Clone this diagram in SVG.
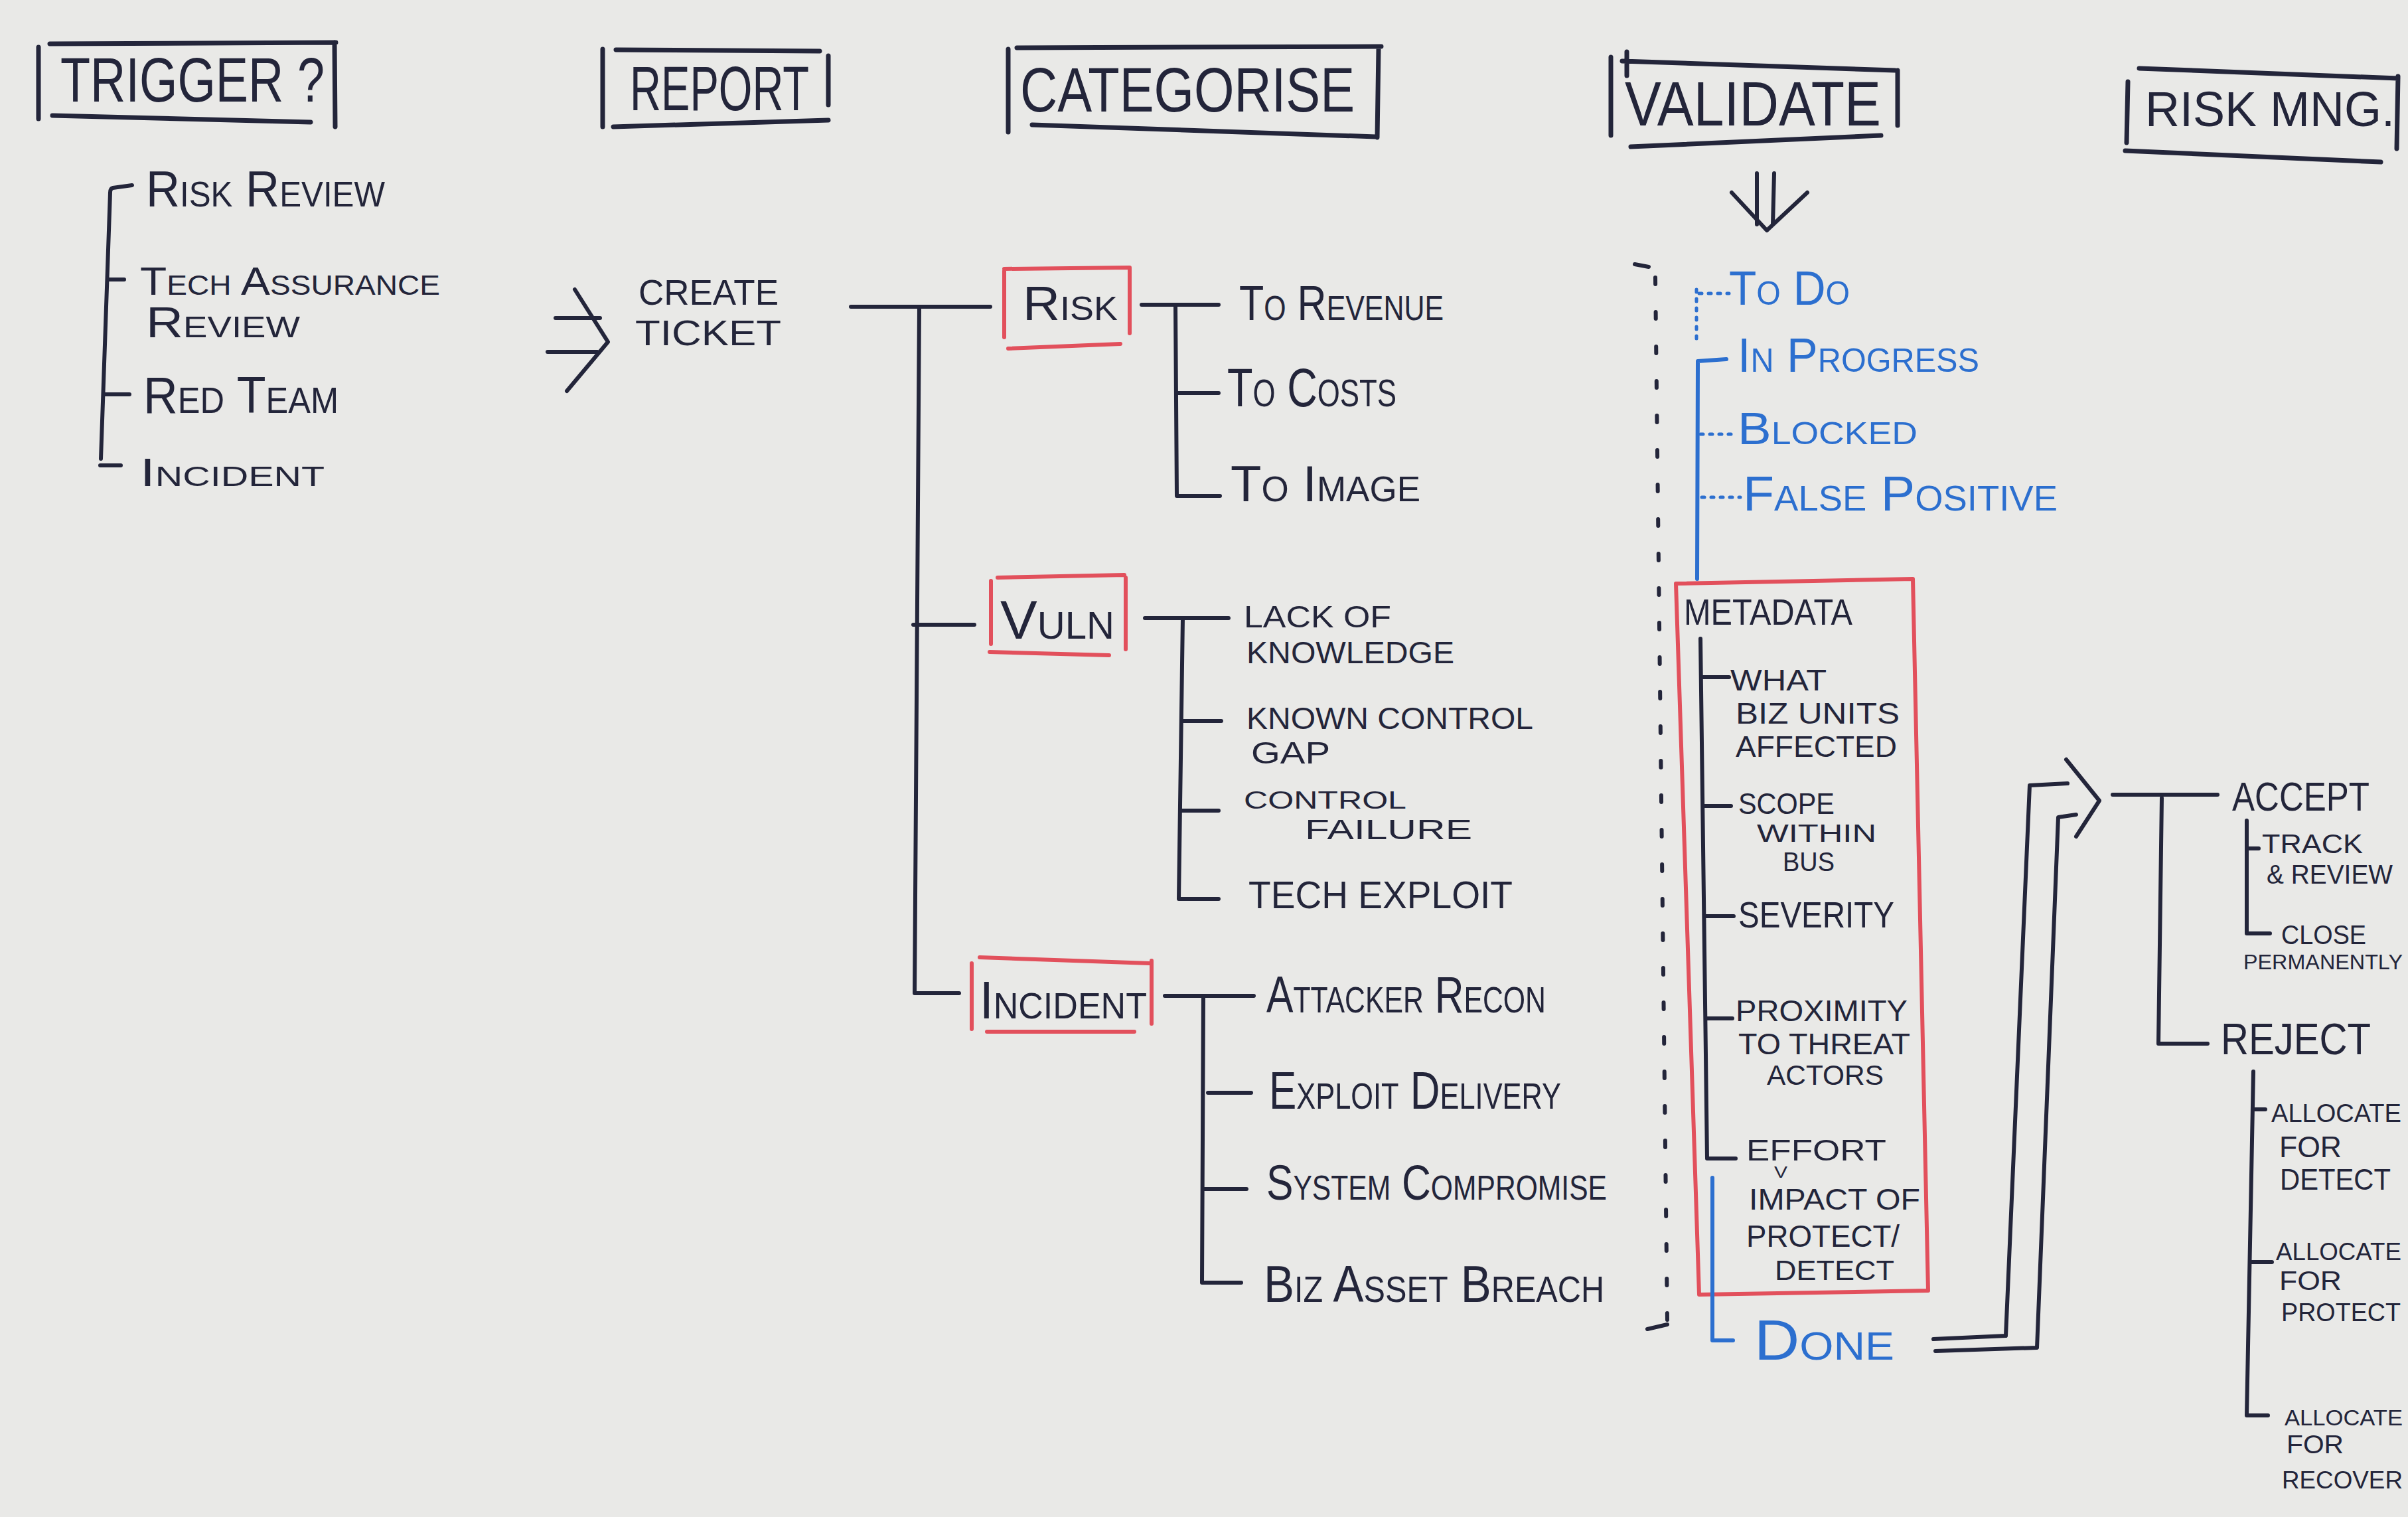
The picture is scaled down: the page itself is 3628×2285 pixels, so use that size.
<svg xmlns="http://www.w3.org/2000/svg" width="3628" height="2285" viewBox="0 0 3628 2285">
<style>
.bg{fill:#e9e9e7}
.ln{fill:none;stroke:#23253a;stroke-width:6;stroke-linecap:round;stroke-linejoin:round}
.bx{fill:none;stroke:#23253a;stroke-width:7;stroke-linecap:round;stroke-linejoin:round}
.rd{fill:none;stroke:#e2505c;stroke-width:6;stroke-linecap:round;stroke-linejoin:round}
.bl{fill:none;stroke:#2c6fcf;stroke-width:6;stroke-linecap:round;stroke-linejoin:round}
.bld{fill:none;stroke:#2c6fcf;stroke-width:5;stroke-linecap:round;stroke-dasharray:4 10}
.dot{fill:none;stroke:#23253a;stroke-width:6;stroke-linecap:round;stroke-dasharray:10 42}
text{font-family:"Liberation Sans",Arial,sans-serif;fill:#23253a}
.sc{font-variant:small-caps}
.bt{fill:#2c6fcf}
.h{font-size:94px}
</style>
<rect class="bg" x="0" y="0" width="3628" height="2285"/>

<g id="trigger">
<path class="bx" d="M58,71 L58,179 M75,66 L506,64 M504,64 L505,191 M79,174 L468,184"/>
<text class="h" x="91" y="153" textLength="398" lengthAdjust="spacingAndGlyphs">TRIGGER ?</text>
</g>
<g id="trig-risk-review"><text class="sc" font-size="76" x="220" y="311" textLength="360" lengthAdjust="spacingAndGlyphs">Risk Review</text></g>
<g id="trig-tech-assurance"><text class="sc" font-size="60"><tspan x="211" y="444" textLength="452" lengthAdjust="spacingAndGlyphs">Tech Assurance</tspan><tspan x="220" y="508" font-size="64" textLength="232" lengthAdjust="spacingAndGlyphs">Review</tspan></text></g>
<g id="trig-red-team"><text class="sc" font-size="78" x="216" y="622" textLength="294" lengthAdjust="spacingAndGlyphs">Red Team</text></g>
<g id="trig-incident"><text class="sc" font-size="60" x="211" y="732" textLength="278" lengthAdjust="spacingAndGlyphs">Incident</text></g>

<g id="report">
<path class="bx" d="M908,74 L908,191 M928,75 L1235,77 M1248,84 L1248,158 M924,191 L1248,181"/>
<text class="h" x="949" y="166" textLength="270" lengthAdjust="spacingAndGlyphs">REPORT</text>
</g>
<g id="create-ticket">
<text font-size="54"><tspan x="962" y="459" textLength="211" lengthAdjust="spacingAndGlyphs">CREATE</tspan><tspan x="957" y="520" textLength="220" lengthAdjust="spacingAndGlyphs">TICKET</tspan></text>
</g>

<g id="categorise">
<path class="bx" d="M1519,74 L1519,199 M1532,72 L2081,70 M2077,74 L2075,207 M1555,188 L2073,206"/>
<text class="h" x="1537" y="168" textLength="504" lengthAdjust="spacingAndGlyphs">CATEGORISE</text>
</g>
<g id="cat-risk">
<path class="rd" d="M1513,408 L1513,508 M1513,405 L1702,403 M1702,403 L1702,502 M1519,525 L1688,518"/>
<text class="sc" font-size="72" x="1541" y="482" textLength="143" lengthAdjust="spacingAndGlyphs">Risk</text>
</g>
<g id="risk-revenue"><text class="sc" font-size="74" x="1867" y="482" textLength="308" lengthAdjust="spacingAndGlyphs">To Revenue</text></g>
<g id="risk-costs"><text class="sc" font-size="82" x="1849" y="612" textLength="255" lengthAdjust="spacingAndGlyphs">To Costs</text></g>
<g id="risk-image"><text class="sc" font-size="76" x="1854" y="755" textLength="286" lengthAdjust="spacingAndGlyphs">To Image</text></g>

<g id="cat-vuln">
<path class="rd" d="M1493,875 L1493,970 M1503,870 L1694,866 M1696,870 L1696,978 M1491,982 L1671,987"/>
<text class="sc" font-size="82" x="1507" y="962" textLength="172" lengthAdjust="spacingAndGlyphs">Vuln</text>
</g>
<g id="vuln-lack"><text font-size="46"><tspan x="1874" y="945" textLength="222" lengthAdjust="spacingAndGlyphs">LACK OF</tspan><tspan x="1878" y="999" textLength="313" lengthAdjust="spacingAndGlyphs">KNOWLEDGE</tspan></text></g>
<g id="vuln-gap"><text font-size="46"><tspan x="1878" y="1098" textLength="432" lengthAdjust="spacingAndGlyphs">KNOWN CONTROL</tspan><tspan x="1885" y="1150" textLength="119" lengthAdjust="spacingAndGlyphs">GAP</tspan></text></g>
<g id="vuln-failure"><text font-size="42"><tspan x="1874" y="1218" font-size="36" textLength="245" lengthAdjust="spacingAndGlyphs">CONTROL</tspan><tspan x="1966" y="1264" textLength="252" lengthAdjust="spacingAndGlyphs">FAILURE</tspan></text></g>
<g id="vuln-exploit"><text font-size="58" x="1881" y="1368" textLength="398" lengthAdjust="spacingAndGlyphs">TECH EXPLOIT</text></g>

<g id="cat-incident">
<path class="rd" d="M1464,1451 L1464,1550 M1476,1442 L1732,1451 M1735,1447 L1735,1542 M1487,1554 L1709,1554"/>
<text class="sc" font-size="80" x="1476" y="1534" textLength="252" lengthAdjust="spacingAndGlyphs">Incident</text>
</g>
<g id="inc-recon"><text class="sc" font-size="78" x="1908" y="1525" textLength="421" lengthAdjust="spacingAndGlyphs">Attacker Recon</text></g>
<g id="inc-delivery"><text class="sc" font-size="80" x="1912" y="1670" textLength="440" lengthAdjust="spacingAndGlyphs">Exploit Delivery</text></g>
<g id="inc-compromise"><text class="sc" font-size="74" x="1908" y="1807" textLength="513" lengthAdjust="spacingAndGlyphs">System Compromise</text></g>
<g id="inc-breach"><text class="sc" font-size="78" x="1904" y="1961" textLength="513" lengthAdjust="spacingAndGlyphs">Biz Asset Breach</text></g>

<g id="validate">
<path class="bx" d="M2427,86 L2427,204 M2451,78 L2451,114 M2444,92 L2855,106 M2859,106 L2859,189 M2457,221 L2834,204"/>
<text class="h" x="2448" y="189" textLength="386" lengthAdjust="spacingAndGlyphs">VALIDATE</text>
</g>
<g id="st-todo"><text class="sc bt" font-size="72" x="2605" y="459" textLength="182" lengthAdjust="spacingAndGlyphs">To Do</text></g>
<g id="st-inprogress"><text class="sc bt" font-size="72" x="2618" y="560" textLength="364" lengthAdjust="spacingAndGlyphs">In Progress</text></g>
<g id="st-blocked"><text class="sc bt" font-size="68" x="2618" y="669" textLength="271" lengthAdjust="spacingAndGlyphs">Blocked</text></g>
<g id="st-falsepositive"><text class="sc bt" font-size="75" x="2626" y="769" textLength="474" lengthAdjust="spacingAndGlyphs">False Positive</text></g>

<g id="metadata">
<path class="rd" d="M2525,879 L2882,872 L2905,1944 L2560,1950 Z"/>
<text font-size="56" x="2537" y="941" textLength="254" lengthAdjust="spacingAndGlyphs">METADATA</text>
</g>
<g id="md-biz"><text font-size="44"><tspan x="2607" y="1040" textLength="145" lengthAdjust="spacingAndGlyphs">WHAT</tspan><tspan x="2615" y="1090" textLength="247" lengthAdjust="spacingAndGlyphs">BIZ UNITS</tspan><tspan x="2615" y="1140" textLength="243" lengthAdjust="spacingAndGlyphs">AFFECTED</tspan></text></g>
<g id="md-scope"><text font-size="44"><tspan x="2619" y="1226" textLength="145" lengthAdjust="spacingAndGlyphs">SCOPE</tspan><tspan x="2647" y="1268" font-size="36" textLength="180" lengthAdjust="spacingAndGlyphs">WITHIN</tspan><tspan x="2686" y="1312" font-size="40" textLength="78" lengthAdjust="spacingAndGlyphs">BUS</tspan></text></g>
<g id="md-severity"><text font-size="56" x="2619" y="1397" textLength="235" lengthAdjust="spacingAndGlyphs">SEVERITY</text></g>
<g id="md-proximity"><text font-size="44"><tspan x="2615" y="1538" textLength="259" lengthAdjust="spacingAndGlyphs">PROXIMITY</tspan><tspan x="2619" y="1588" textLength="259" lengthAdjust="spacingAndGlyphs">TO THREAT</tspan><tspan x="2662" y="1634" font-size="42" textLength="176" lengthAdjust="spacingAndGlyphs">ACTORS</tspan></text></g>
<g id="md-effort"><text font-size="44"><tspan x="2631" y="1748" textLength="211" lengthAdjust="spacingAndGlyphs">EFFORT</tspan><tspan x="2673" y="1774" font-size="24" textLength="20" lengthAdjust="spacingAndGlyphs">V</tspan><tspan x="2635" y="1822" textLength="258" lengthAdjust="spacingAndGlyphs">IMPACT OF</tspan><tspan x="2631" y="1878" font-size="46" textLength="231" lengthAdjust="spacingAndGlyphs">PROTECT/</tspan><tspan x="2674" y="1928" font-size="42" textLength="180" lengthAdjust="spacingAndGlyphs">DETECT</tspan></text></g>
<g id="st-done"><text class="sc bt" font-size="86" x="2643" y="2048" textLength="211" lengthAdjust="spacingAndGlyphs">Done</text></g>

<g id="riskmng">
<path class="bx" d="M3206,123 L3204,215 M3223,103 L3613,118 M3613,115 L3611,224 M3202,227 L3587,244"/>
<text font-size="74" x="3232" y="190" textLength="376" lengthAdjust="spacingAndGlyphs">RISK MNG.</text>
</g>
<g id="rm-accept"><text font-size="62" x="3363" y="1221" textLength="207" lengthAdjust="spacingAndGlyphs">ACCEPT</text></g>
<g id="rm-track"><text font-size="40"><tspan x="3408" y="1285" textLength="152" lengthAdjust="spacingAndGlyphs">TRACK</tspan><tspan x="3415" y="1331" textLength="190" lengthAdjust="spacingAndGlyphs">&amp; REVIEW</tspan></text></g>
<g id="rm-close"><text font-size="40"><tspan x="3437" y="1422" textLength="128" lengthAdjust="spacingAndGlyphs">CLOSE</tspan><tspan x="3380" y="1460" font-size="32" textLength="240" lengthAdjust="spacingAndGlyphs">PERMANENTLY</tspan></text></g>
<g id="rm-reject"><text font-size="66" x="3346" y="1588" textLength="226" lengthAdjust="spacingAndGlyphs">REJECT</text></g>
<g id="rm-detect"><text font-size="44"><tspan x="3422" y="1690" font-size="38" textLength="196" lengthAdjust="spacingAndGlyphs">ALLOCATE</tspan><tspan x="3434" y="1743" textLength="94" lengthAdjust="spacingAndGlyphs">FOR</tspan><tspan x="3435" y="1792" textLength="167" lengthAdjust="spacingAndGlyphs">DETECT</tspan></text></g>
<g id="rm-protect"><text font-size="38"><tspan x="3429" y="1898" font-size="36" textLength="189" lengthAdjust="spacingAndGlyphs">ALLOCATE</tspan><tspan x="3434" y="1943" font-size="40" textLength="94" lengthAdjust="spacingAndGlyphs">FOR</tspan><tspan x="3437" y="1990" textLength="180" lengthAdjust="spacingAndGlyphs">PROTECT</tspan></text></g>
<g id="rm-recover"><text font-size="37"><tspan x="3442" y="2147" font-size="34" textLength="178" lengthAdjust="spacingAndGlyphs">ALLOCATE</tspan><tspan x="3445" y="2189" font-size="38" textLength="86" lengthAdjust="spacingAndGlyphs">FOR</tspan><tspan x="3438" y="2242" textLength="182" lengthAdjust="spacingAndGlyphs">RECOVER</tspan></text></g>

<g id="connectors">
<path class="ln" d="M199,279 L170,283 Q166,284 166,290 L152,691 M162,421 L187,421 M157,594 L195,594 M151,701 L182,701"/>
<path class="ln" d="M837,479 L904,479 M825,530 L900,530 M866,436 L916,515 L854,589"/>
<path class="ln" d="M1282,462 L1492,462 M1385,462 L1378,1496 L1445,1496 M1376,941 L1468,941"/>
<path class="ln" d="M1720,459 L1836,459 M1771,459 L1773,747 L1838,747 M1773,592 L1836,592"/>
<path class="ln" d="M1725,931 L1851,931 M1782,931 L1776,1354 L1836,1354 M1780,1086 L1840,1086 M1779,1221 L1836,1221"/>
<path class="ln" d="M1755,1500 L1889,1500 M1813,1500 L1811,1932 L1870,1932 M1820,1646 L1885,1646 M1813,1791 L1878,1791"/>
<path class="ln" d="M2647,261 L2647,338 M2673,261 L2671,338 M2609,290 L2662,347 L2723,290"/>
<path class="ln" d="M2463,398 L2484,402"/>
<path class="dot" d="M2494,418 L2512,1990"/>
<path class="ln" d="M2512,1995 L2482,2002"/>
<path class="bld" d="M2556,436 L2556,519 M2560,442 L2605,442 M2562,654 L2615,654 M2564,749 L2622,749"/>
<path class="bl" d="M2601,541 L2558,544 L2557,872"/>
<path class="ln" d="M2562,962 L2572,1745 L2615,1745 M2564,1020 L2605,1020 M2567,1214 L2608,1214 M2568,1380 L2612,1380 M2570,1534 L2610,1534"/>
<path class="bl" d="M2580,1774 L2580,2019 L2611,2019"/>
<path class="ln" d="M2913,2017 L3022,2012 L3058,1183 L3115,1180 M2916,2035 L3069,2030 L3101,1231 L3128,1227 M3113,1144 L3163,1206 L3128,1260"/>
<path class="ln" d="M3183,1197 L3341,1197 M3257,1202 L3252,1572 L3326,1572"/>
<path class="ln" d="M3385,1236 L3385,1406 L3420,1406 M3385,1278 L3403,1278"/>
<path class="ln" d="M3395,1614 L3385,2132 L3417,2132 M3395,1671 L3413,1671 M3390,1901 L3423,1901"/>
</g>
</svg>
